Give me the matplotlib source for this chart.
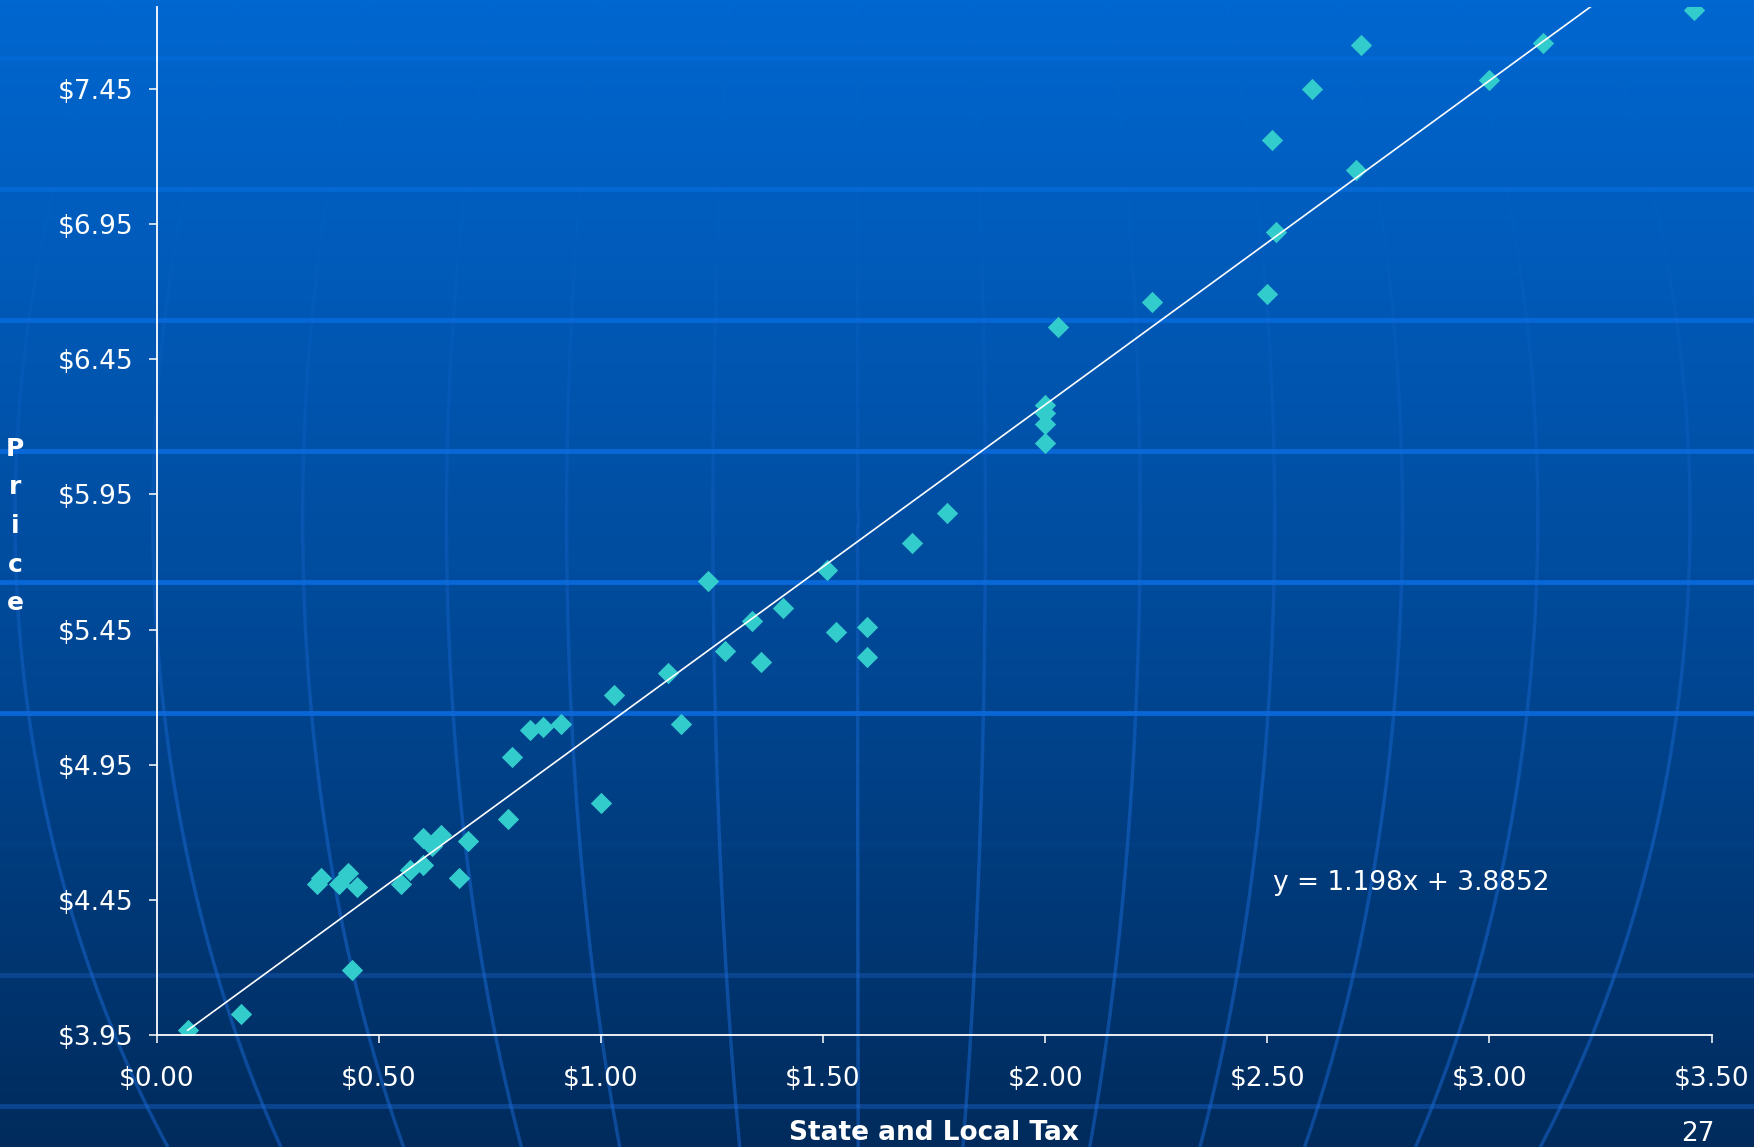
import numpy as np
import matplotlib.pyplot as plt
from matplotlib.colors import LinearSegmentedColormap, to_rgba
from matplotlib.collections import LineCollection

# state and local tax (x) vs price (y)
tax = [0.07, 0.19, 0.36, 0.37, 0.41, 0.43, 0.45, 0.44, 0.55, 0.57, 0.60, 0.60,
       0.62, 0.64, 0.68, 0.70, 0.79, 0.80, 0.84, 0.87, 0.91, 1.00, 1.03, 1.15,
       1.18, 1.24, 1.28, 1.34, 1.36, 1.41, 1.51, 1.53, 1.60, 1.60, 1.70, 1.78,
       2.00, 2.00, 2.00, 2.00, 2.03, 2.24, 2.50, 2.51, 2.52, 2.60, 2.70, 2.71,
       3.00, 3.12, 3.46]
price = [3.97, 4.03, 4.51, 4.53, 4.51, 4.55, 4.50, 4.19, 4.51, 4.56, 4.58, 4.68,
         4.65, 4.69, 4.53, 4.67, 4.75, 4.98, 5.08, 5.09, 5.10, 4.81, 5.21, 5.29,
         5.10, 5.63, 5.37, 5.48, 5.33, 5.53, 5.67, 5.44, 5.46, 5.35, 5.77, 5.88,
         6.28, 6.25, 6.21, 6.14, 6.57, 6.66, 6.69, 7.26, 6.92, 7.45, 7.15, 7.61,
         7.48, 7.62, 7.74]
slope, intercept = 1.198, 3.8852

xticks = [0, 0.5, 1.0, 1.5, 2.0, 2.5, 3.0, 3.5]
yticks = [3.95, 4.45, 4.95, 5.45, 5.95, 6.45, 6.95, 7.45]

W, H = 1754, 1147
fig = plt.figure(figsize=(W / 100, H / 100), dpi=100)

# slide background: blue gradient with a faint globe grid
bg = fig.add_axes([0, 0, 1, 1], zorder=0)
bg.set_xlim(0, W)
bg.set_ylim(H, 0)
bg.axis('off')
cmap = LinearSegmentedColormap.from_list('slide', ['#0067d0', '#004c9e', '#002b5c'])
grad = np.linspace(0, 1, 256).reshape(-1, 1)
bg.imshow(grad, cmap=cmap, aspect='auto', extent=[0, W, H, 0])

band_y = [58, 189, 320, 451, 582, 713, 844, 975, 1106]
band_c = ['#0268d4', '#0468d4', '#0668d6', '#0868d8', '#0868d8', '#0866d6',
          '#023f82', '#0b4590', '#0b4590']
for yy, cc in zip(band_y, band_c):
    bg.axhline(yy, color=cc, lw=3.5)

# meridians fade out towards the top of the slide
cx, a, yc, b = 861, 846, 518, 1097
meridians = [-1.0, -0.837, -0.66, -0.49, -0.348, -0.175, -0.004, 0.147,
             0.33, 0.489, 0.64, 0.80, 0.98]
ys = np.linspace(0, H, 300)
shape = np.sqrt(np.clip(1 - ((ys - yc) / b) ** 2, 0, None))
fade = np.clip((ys[:-1] / H - 0.15) / 0.55, 0, 1) * 0.45 + 0.05
colors = [to_rgba('#1a6ad6', al) for al in fade]
for s in meridians:
    pts = np.column_stack([cx + s * a * shape, ys]).reshape(-1, 1, 2)
    segs = np.concatenate([pts[:-1], pts[1:]], axis=1)
    bg.add_collection(LineCollection(segs, colors=colors, linewidths=2.5))

# scatter chart
ax = fig.add_axes([0.0893, 0.0973, 0.8865, 0.8963], zorder=1)
ax.patch.set_alpha(0)
ax.scatter(tax, price, marker='D', s=118, color='#33cccc', linewidths=0, zorder=2)
fx = np.array([min(tax), max(tax)])
ax.plot(fx, slope * fx + intercept, color='white', lw=1.2, zorder=3)

ax.set_xlim(0, 3.5)
ax.set_ylim(3.95, 7.75)
ax.set_xticks(xticks)
ax.set_yticks(yticks)
ax.set_xticklabels(['${:.2f}'.format(v) for v in xticks])
ax.set_yticklabels(['${:.2f}'.format(v) for v in yticks])
for side in ['top', 'right']:
    ax.spines[side].set_visible(False)
for side in ['left', 'bottom']:
    ax.spines[side].set_color('white')
    ax.spines[side].set_linewidth(1.3)
ax.tick_params(colors='white', labelsize=19, length=6, width=1.1)
ax.tick_params(axis='y', pad=11)
ax.tick_params(axis='x', pad=16)
ax.set_xlabel('State and Local Tax', color='white', fontsize=19,
              fontweight='bold', labelpad=20)

ax.text(2.513, 4.513, 'y = 1.198x + 3.8852', color='white', fontsize=19,
        ha='left', va='center')

for i, ch in enumerate('Price'):
    fig.text(15 / W, 1 - (449 + 38.5 * i) / H, ch, color='white', fontsize=18,
             fontweight='bold', ha='center', va='center')
fig.text(1698 / W, 1 - 1134 / H, '27', color='white', fontsize=19,
         ha='center', va='center')

fig.savefig('out.png', dpi=100)
